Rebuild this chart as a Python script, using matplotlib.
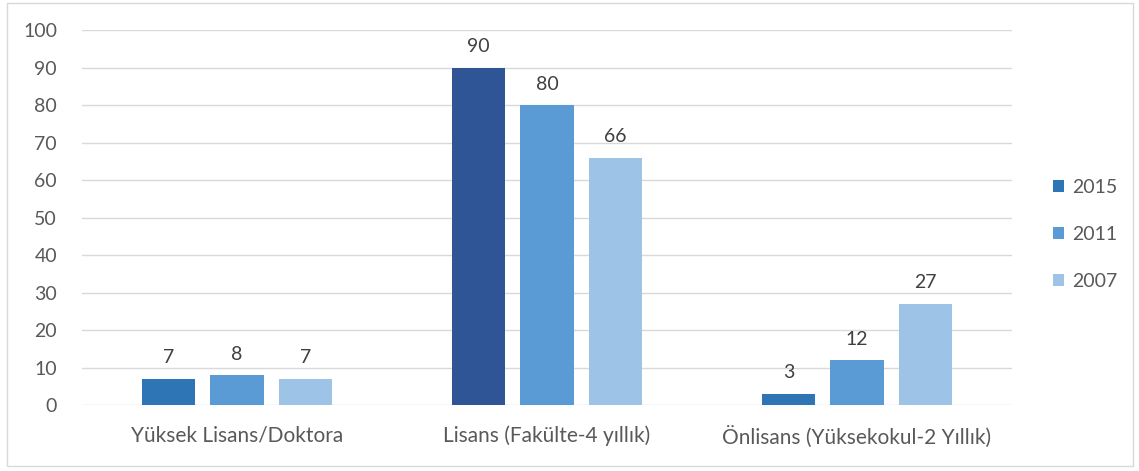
import matplotlib.pyplot as plt
import numpy as np
from matplotlib.patches import Rectangle

categories = ["Yüksek Lisans/Doktora", "Lisans (Fakülte-4 yıllık)", "Önlisans (Yüksekokul-2 Yıllık)"]
years = ["2015", "2011", "2007"]
v2015 = [7, 90, 3]
v2011 = [8, 80, 12]
v2007 = [7, 66, 27]

colors = ["#2E75B6", "#5B9BD5", "#9DC3E6"]
highlight = "#2F5597"   # Lisans 2015 bar is drawn darker in the original
grey = "#595959"
fs = 14

plt.rcParams.update({"font.family": ["Lato", "DejaVu Sans"]})

fig = plt.figure(figsize=(11.39, 4.71), dpi=100)
ax = fig.add_axes([0.072, 0.1401, 0.8165, 0.7962])

# outer chart border
fig.patches.append(Rectangle((7 / 1139, 1 - 466 / 471), 1126 / 1139, 463 / 471,
                             transform=fig.transFigure, fill=False,
                             edgecolor="#D9D9D9", lw=1.0))

x = np.arange(len(categories))
w = 0.174
off = 0.221
series = [v2015, v2011, v2007]
for i, (vals, c, lab) in enumerate(zip(series, colors, years)):
    bars = ax.bar(x + (i - 1) * off, vals, w, color=c, label=lab, zorder=3)
    if i == 0:
        bars[1].set_facecolor(highlight)
    for b, v in zip(bars, vals):
        ax.annotate(str(v), (b.get_x() + b.get_width() / 2, v),
                    xytext=(0, 9), textcoords="offset points",
                    ha="center", va="bottom", fontsize=fs, color="#404040")

ax.set_xlim(-0.5, 2.5)
ax.set_ylim(0, 100)
ax.set_yticks(range(0, 101, 10))
ax.set_xticks(x)
ax.set_xticklabels(categories, fontsize=15)
ax.tick_params(axis="both", length=0, labelcolor=grey)
ax.tick_params(axis="y", labelsize=fs, pad=18)
ax.tick_params(axis="x", pad=15)
ax.grid(axis="y", color="#D9D9D9", lw=1.0, zorder=0)
for s in ax.spines.values():
    s.set_visible(False)

leg = ax.legend(loc="center left", bbox_to_anchor=(1.025, 0.455), frameon=False,
                fontsize=fs, handlelength=0.6, handleheight=0.6,
                labelspacing=1.55, handletextpad=0.4)
for t in leg.get_texts():
    t.set_color(grey)

fig.savefig("out.png", dpi=100)
